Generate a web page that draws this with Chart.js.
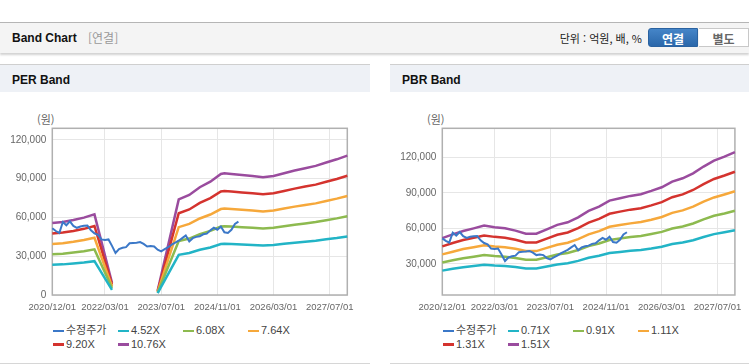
<!DOCTYPE html>
<html lang="ko">
<head>
<meta charset="utf-8">
<title>Band Chart</title>
<script src="https://cdn.jsdelivr.net/npm/chart.js@4.4.1/dist/chart.umd.min.js"></script>
<style>
  body { margin: 0; width: 749px; height: 364px; overflow: hidden; background: #fff; position: relative;
         font-family: "Liberation Sans", "Noto Sans CJK KR", sans-serif; }
  .head { position: absolute; left: 0; top: 22px; width: 749px; height: 30px; background: #f4f4f4;
          border-top: 1px solid #b5b5b5; box-shadow: 0 2px 2px rgba(0,0,0,0.18); }
  .head .title { position: absolute; left: 12px; top: 0; line-height: 30px; font-size: 12px; font-weight: bold; color: #111; }
  .head .sub { position: absolute; left: 88px; top: 0; line-height: 30px; font-size: 12px; color: #999;
               font-family: "Noto Sans CJK KR", sans-serif; }
  .head .unit { position: absolute; right: 107px; top: 0; line-height: 31px; font-size: 11px; color: #222;
                font-family: "Noto Sans CJK KR", sans-serif; }
  .btn { position: absolute; top: 5px; height: 19px; width: 50px; line-height: 19px; text-align: center;
         font-size: 12px; font-weight: bold; font-family: "Noto Sans CJK KR", sans-serif; box-sizing: border-box; }
  .btn.on { left: 648px; background: linear-gradient(#4585c8, #2a67aa); color: #fff; border: 1px solid #2a62a0;
            border-radius: 3px 0 0 3px; }
  .btn.off { left: 699px; background: #fff; color: #666; border: 1px solid #c8c8c8; border-left: 0; }
  .panel { position: absolute; top: 64px; height: 298px; border-top: 1px solid #cfcfcf; border-bottom: 1px solid #d6d6d6; }
  .panel .bar { height: 27px; background: #eef1f6; }
  .panel .bar span { display: block; padding: 2px 0 0 12px; line-height: 26px; font-size: 12px; font-weight: bold; color: #111; }
  .panel .box { position: absolute; left: 0; top: 27px; height: 226px; }
  .panel .won { position: absolute; top: 46px; font-size: 11px; color: #666; font-family: "Noto Sans CJK KR", sans-serif; }
  .legend { position: absolute; left: 53px; top: 259px; width: 270px; font-size: 11px; color: #444; line-height: 13.5px; }
  .legend div { display: inline-block; width: 65px; white-space: nowrap; }
  .legend i { display: inline-block; width: 11px; height: 2.5px; margin-right: 2px; vertical-align: middle; }
</style>
</head>
<body>

<div class="head">
  <span class="title">Band Chart</span>
  <span class="sub">[연결]</span>
  <span class="unit">단위 : 억원, 배, %</span>
  <div class="btn on">연결</div>
  <div class="btn off">별도</div>
</div>

<div class="panel" style="left:0; width:370px;">
  <div class="bar"><span>PER Band</span></div>
  <div class="won" style="left:37px;">(원)</div>
  <div class="box" style="width:370px;"><canvas id="perChart"></canvas></div>
  <div class="legend" id="perLegend"></div>
</div>

<div class="panel" style="left:390px; width:359px;">
  <div class="bar"><span>PBR Band</span></div>
  <div class="won" style="left:37px;">(원)</div>
  <div class="box" style="width:359px;"><canvas id="pbrChart"></canvas></div>
  <div class="legend" id="pbrLegend"></div>
</div>

<script>
// monthly categories 2020/12 .. 2027/12
let monthLabels = [];
for (let i = 0; i < 85; i++) {
  let y = 2020 + Math.floor((11 + i) / 12);
  let m = (11 + i) % 12 + 1;
  monthLabels.push(y + "/" + String(m).padStart(2, "0") + "/01");
}
const xTickLabels = ["2020/12/01", "2022/03/01", "2023/07/01", "2024/11/01", "2026/03/01", "2027/07/01"];

const colors = ["#3b78c8", "#22b4c6", "#8dba4f", "#f6a83b", "#d4332e", "#9a4c9e"];
const priceLabel = "수정주가";

// 수정주가, monthly from 2020/12
const priceValues = [51600, 49500, 48000, 56500, 54000, 57000, 53500, 52000, 53000, 53500,
  53700, 50000, 47700, 46500, 43000, 42600, 43000, 38000, 32500, 35500,
  36500, 37000, 40000, 40300, 40500, 41000, 39500, 37500, 38000, 37500,
  35000, 33800, 35500, 37000, 39000, 40500, 42000, 44000, 46000, 41500,
  44000, 45000, 45500, 47000, 47500, 50000, 52000, 50500, 53000, 48500,
  48000, 50500, 55000, 56800];

// PER band
const perBandLabels = ["4.52X", "6.08X", "7.64X", "9.20X", "10.76X"];
const perMonths = ["2020/12/01", "2021/03/01", "2021/06/01", "2021/09/01", "2021/12/01", "2022/05/01", "2022/12/01",
  "2023/06/01", "2023/12/01", "2024/03/01", "2024/06/01", "2024/09/01", "2024/12/01", "2025/01/01", "2025/03/01",
  "2025/06/01", "2025/09/01", "2025/12/01", "2026/03/01", "2026/06/01", "2026/09/01", "2026/12/01", "2027/03/01",
  "2027/06/01", "2027/09/01", "2027/12/01"];
const per452 = [23400, 23700, 24400, 25200, 26200, 4000, null, 1400, 31100, 32500, 35000, 36800, 39400, 39600, 39400,
  39000, 38700, 38300, 38700, 39600, 40500, 41200, 42000, 43100, 44100, 45300];
const per608 = [31500, 31900, 32800, 33800, 35300, 5400, null, 1900, 41800, 43700, 47100, 49600, 53000, 53200, 53000,
  52500, 52000, 51500, 52000, 53200, 54400, 55400, 56500, 57900, 59300, 61000];
const per764 = [39500, 40100, 41200, 42500, 44300, 6700, null, 2400, 52500, 55000, 59200, 62300, 66500, 66900, 66500,
  66000, 65400, 64700, 65400, 66900, 68400, 69700, 70900, 72800, 74600, 76600];
const per920 = [47600, 48300, 49600, 51200, 53400, 8100, null, 2900, 63300, 66200, 71300, 75000, 80100, 80500, 80100,
  79400, 78700, 77900, 78700, 80500, 82300, 83900, 85400, 87600, 89800, 92300];
const per1076 = [55700, 56500, 58000, 59900, 62400, 9500, null, 3400, 74000, 77400, 83400, 87700, 93700, 94200, 93700,
  92900, 92100, 91100, 92100, 94200, 96300, 98100, 99900, 102500, 105000, 107900];
const perYTicks = [0, 30000, 60000, 90000, 120000];

// PBR band
const pbrBandLabels = ["0.71X", "0.91X", "1.11X", "1.31X", "1.51X"];
const pbrMonths = ["2020/12/01", "2021/03/01", "2021/06/01", "2021/09/01", "2021/12/01", "2022/03/01", "2022/06/01",
  "2022/09/01", "2022/12/01", "2023/03/01", "2023/06/01", "2023/09/01", "2023/12/01", "2024/03/01", "2024/06/01",
  "2024/09/01", "2024/12/01", "2025/03/01", "2025/06/01", "2025/09/01", "2025/12/01", "2026/03/01", "2026/06/01",
  "2026/09/01", "2026/12/01", "2027/03/01", "2027/06/01", "2027/09/01", "2027/12/01"];
const pbr071 = [24400, 25900, 27200, 28300, 29300, 28700, 28300, 27400, 26100, 26100, 27900, 29600, 30700, 32600, 35200,
  36900, 39300, 40200, 41100, 41800, 43100, 44600, 46800, 48100, 50100, 52800, 55200, 56800, 58500];
const pbr091 = [31200, 33100, 34900, 36200, 37600, 36800, 36200, 35100, 33500, 33500, 35700, 38000, 39300, 41800, 45100,
  47300, 50300, 51500, 52700, 53600, 55300, 57100, 60000, 61700, 64200, 67700, 70700, 72700, 75000];
const pbr111 = [38100, 40400, 42600, 44200, 45900, 44800, 44200, 42800, 40900, 40900, 43600, 46300, 47900, 51000, 55000,
  57700, 61400, 62900, 64300, 65400, 67400, 69700, 73200, 75300, 78400, 82600, 86200, 88700, 91400];
const pbr131 = [44900, 47700, 50200, 52100, 54100, 52900, 52100, 50500, 48200, 48200, 51400, 54700, 56600, 60200, 64900,
  68100, 72400, 74200, 75900, 77100, 79500, 82200, 86400, 88800, 92500, 97400, 101800, 104700, 107900];
const pbr151 = [51800, 55000, 57900, 60100, 62400, 61000, 60100, 58200, 55600, 55600, 59300, 63000, 65200, 69400, 74800,
  78500, 83500, 85500, 87500, 88900, 91700, 94800, 99600, 102400, 106600, 112300, 117300, 120700, 124400];
const pbrYTicks = [30000, 60000, 90000, 120000];

Chart.defaults.font.family = '"Liberation Sans", "Noto Sans CJK KR", sans-serif';

function toPoints(months, values) {
  return months.map((m, i) => ({ x: m, y: values[i] }));
}

function makeDatasets(bandLabels, months, bands) {
  let sets = [{
    label: priceLabel, data: priceValues, borderColor: colors[0], borderWidth: 2,
    pointRadius: 0, tension: 0
  }];
  bands.forEach((vals, i) => {
    sets.push({
      label: bandLabels[i], data: toPoints(months, vals), borderColor: colors[i + 1],
      borderWidth: 2.5, pointRadius: 0, tension: 0
    });
  });
  return sets;
}

// gray frame round the plot area
const frame = {
  id: "frame",
  beforeDatasetsDraw(chart) {
    let a = chart.chartArea, ctx = chart.ctx;
    ctx.save();
    ctx.strokeStyle = "#b0b0b0";
    ctx.lineWidth = 1.5;
    ctx.strokeRect(a.left, a.top, a.right - a.left, a.bottom - a.top);
    ctx.restore();
  }
};

function bandChart(id, datasets, yMin, yMax, yTicks, rightPad) {
  return new Chart(document.getElementById(id), {
    type: "line",
    data: { labels: monthLabels, datasets: datasets },
    options: {
      responsive: true,
      maintainAspectRatio: false,
      animation: false,
      events: [],
      layout: { padding: { top: 36.3, right: rightPad, left: 0, bottom: 0 } },
      plugins: { legend: { display: false }, tooltip: { enabled: false } },
      scales: {
        x: {
          grid: { color: "#e6e6e6", drawTicks: false },
          border: { display: false },
          ticks: { autoSkip: false, maxRotation: 0, padding: 7, color: "#666", font: { size: 9.5 } },
          afterBuildTicks: ax => { ax.ticks = xTickLabels.map(l => ({ value: monthLabels.indexOf(l) })); },
          afterFit: ax => { ax.height = 23; }
        },
        y: {
          min: yMin,
          max: yMax,
          grid: { color: "#e6e6e6", drawTicks: false },
          border: { display: false },
          ticks: { padding: 6, color: "#666", font: { size: 10 } },
          afterBuildTicks: ax => { ax.ticks = yTicks.map(v => ({ value: v })); },
          afterFit: ax => { ax.width = 52.3; }
        }
      }
    },
    plugins: [frame]
  });
}

function makeLegend(id, datasets) {
  let html = "";
  datasets.forEach(ds => {
    html += '<div><i style="background:' + ds.borderColor + '"></i>' + ds.label + "</div>";
  });
  document.getElementById(id).innerHTML = html;
}

let perSets = makeDatasets(perBandLabels, perMonths, [per452, per608, per764, per920, per1076]);
let pbrSets = makeDatasets(pbrBandLabels, pbrMonths, [pbr071, pbr091, pbr111, pbr131, pbr151]);

bandChart("perChart", perSets, 0, 129000, perYTicks, 22.7);
bandChart("pbrChart", pbrSets, 3800, 144600, pbrYTicks, 12.3);
makeLegend("perLegend", perSets);
makeLegend("pbrLegend", pbrSets);
</script>
</body>
</html>
